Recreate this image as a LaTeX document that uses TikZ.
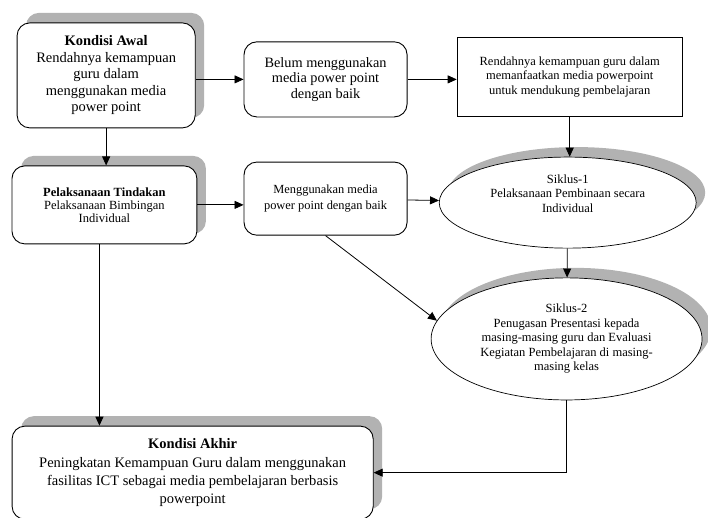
\documentclass[tikz,border=0pt]{standalone}
\usepackage{fontspec}
\setmainfont{Liberation Serif}
\usetikzlibrary{arrows.meta,shapes.geometric,shadows}

\begin{document}
\begin{tikzpicture}[
    box/.style={
        rectangle, draw, fill=white, line width=0.9pt, rounded corners=4.5mm,
        align=center, inner sep=2pt
    },
    plainbox/.style={
        rectangle, draw, fill=white, line width=0.9pt,
        align=center, inner sep=2pt
    },
    oval/.style={
        ellipse, draw, fill=white, line width=0.7pt,
        align=center, inner sep=0pt
    },
    shade/.style={
        general shadow={fill=black!30, draw=none, shadow xshift=9pt, shadow yshift=10pt}
    },
    bigtext/.style={font=\fontsize{14.5}{16.5}\selectfont},
    smalltext/.style={font=\fontsize{12.5}{14.5}\selectfont},
    arrow/.style={-{Triangle[length=9pt,width=8pt]}, line width=0.8pt}
]
\useasboundingbox (0,0) rectangle (24.88,-18.17);

% ==================== KOLOM KIRI ====================
\node[box, shade, bigtext, minimum width=6.26cm, minimum height=3.69cm] (awal) at (3.73,-2.65)
    {\textbf{Kondisi Awal}\\Rendahnya kemampuan\\guru dalam\\menggunakan media\\power point};
\node[box, shade, smalltext, font=\fontsize{12.5}{13}\selectfont, minimum width=6.5cm, minimum height=2.74cm] (tindakan) at (3.67,-7.2)
    {\textbf{Pelaksanaan Tindakan}\\Pelaksanaan Bimbingan\\Individual};
\node[box, shade, bigtext, font=\fontsize{14.5}{18.3}\selectfont, minimum width=12.69cm, minimum height=3.27cm] (akhir) at (6.77,-16.61)
    {\textbf{Kondisi Akhir}\\Peningkatan Kemampuan Guru dalam menggunakan\\fasilitas ICT sebagai media pembelajaran berbasis\\powerpoint};

% ==================== KOLOM TENGAH ====================
\node[box, bigtext, font=\fontsize{14.3}{15.5}\selectfont, minimum width=5.73cm, minimum height=2.64cm] (belum) at (11.44,-2.79)
    {Belum menggunakan\\media power point\\dengan baik};
\node[box, smalltext, font=\fontsize{12.4}{16}\selectfont, minimum width=5.73cm, minimum height=2.57cm] (media) at (11.44,-6.98)
    {Menggunakan media\\power point dengan baik};

% ==================== KOLOM KANAN ====================
\node[plainbox, smalltext, minimum width=7.91cm, minimum height=2.78cm] (rendah) at (20.02,-2.69)
    {Rendahnya kemampuan guru dalam\\memanfaatkan media powerpoint\\untuk mendukung pembelajaran};
\node[oval, shade, smalltext, minimum width=9.03cm, minimum height=3.2cm] (siklus1) at (19.95,-7.12)
    {Siklus-1\\Pelaksanaan Pembinaan secara\\Individual\\[4pt]};
\node[oval, shade, smalltext, minimum width=9.52cm, minimum height=4.29cm] (siklus2) at (19.91,-11.91)
    {Siklus-2\\Penugasan Presentasi kepada\\masing-masing guru dan Evaluasi\\Kegiatan Pembelajaran di masing-\\masing kelas};

% ==================== PANAH ====================
\draw[arrow] (awal.east |- belum.west) -- (belum.west);
\draw[arrow] (belum.east) -- (belum.east -| rendah.west);
\draw[arrow] (rendah.south) -- (rendah.south |- siklus1.north);
\draw[arrow] (awal.south) -- (awal.south |- tindakan.north);
\draw[arrow] (tindakan.east) -- (tindakan.east -| media.west);
\draw[arrow] (media) -- (siklus1);
\draw[arrow] (media.south) -- (siklus2.172);
\draw[arrow] (siklus1) -- (siklus2);
\draw[arrow] ([xshift=-5pt]tindakan.south) -- ([xshift=-5pt]tindakan.south |- akhir.north);
\draw[arrow] (siklus2.south) |- (akhir.east);

\end{tikzpicture}
\end{document}
